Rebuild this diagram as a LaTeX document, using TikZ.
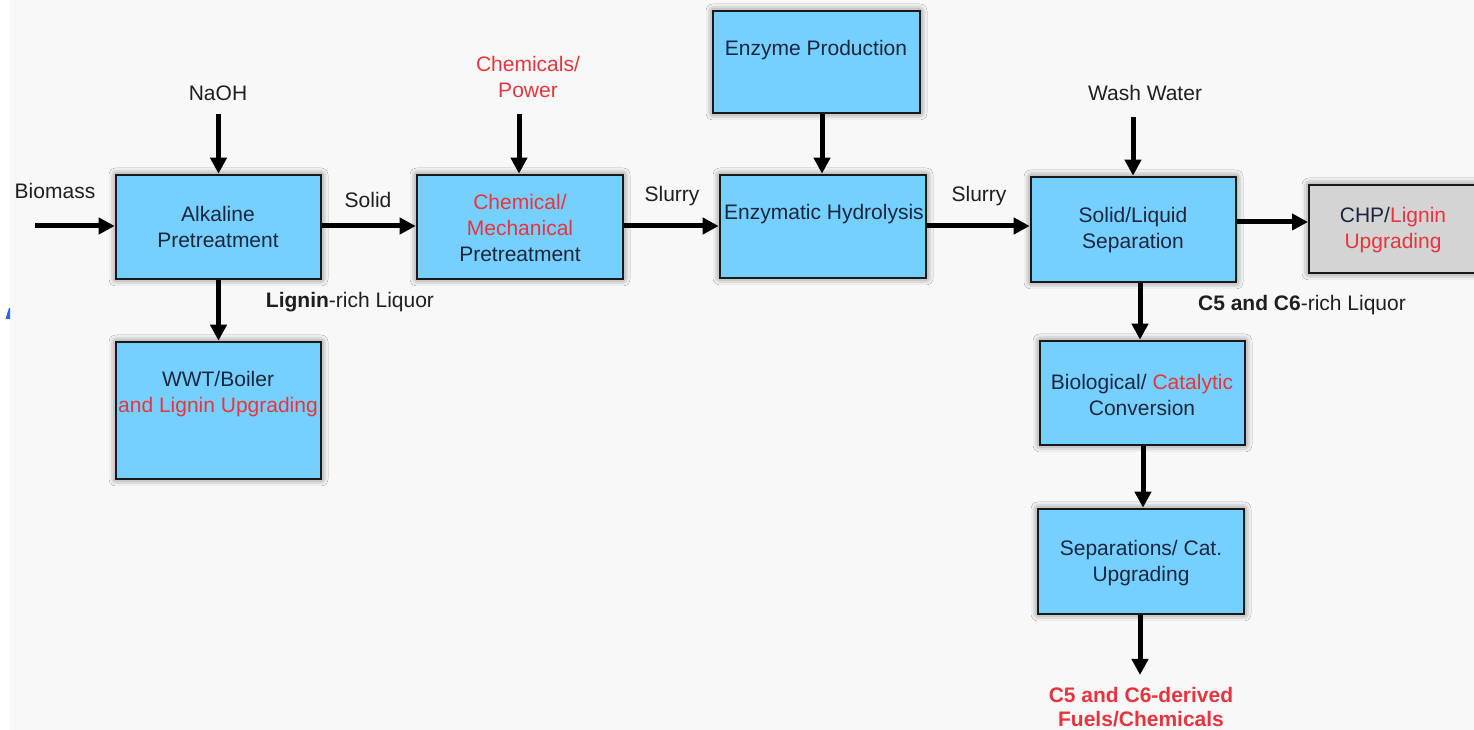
\documentclass[tikz,border=0pt]{standalone}
\usepackage{fontspec}
\setmainfont{Liberation Sans}
\usetikzlibrary{arrows.meta,shadows.blur}
\definecolor{boxblue}{RGB}{118,208,255}
\definecolor{boxgray}{RGB}{212,212,212}
\definecolor{inkred}{RGB}{232,52,62}
\definecolor{ink}{RGB}{26,38,62}
\definecolor{bgcol}{RGB}{248,248,248}
\definecolor{markblue}{RGB}{50,95,255}
\tikzset{
  proc/.style={draw=black!90, line width=2.6pt, fill=boxblue, inner sep=0pt,
    blur shadow={shadow xshift=0pt, shadow yshift=0pt, shadow blur radius=7pt, shadow opacity=60}},
  sidebox/.style={proc, fill=boxgray, line width=2pt},
  flow/.style={line width=5pt, -{Triangle[length=16pt,width=16pt]}},
  boxtext/.style={font=\fontsize{21}{26}\selectfont, text=ink, align=center, inner sep=0pt},
  lbl/.style={font=\fontsize{21}{26}\selectfont, text=black!88, align=center, inner sep=0pt},
  hot/.style={text=inkred},
}
\begin{document}
\begin{tikzpicture}[x=1pt,y=1pt]
  \useasboundingbox (0,0) rectangle (1474,730);
  \fill[bgcol] (0,0) rectangle (1474,730);
  \fill[white] (0,0) rectangle (10,730);
  \fill[markblue] (5.5,411) -- (9,422) -- (10,422) -- (10,411) -- cycle;

  % process boxes
  \node[proc, minimum width=205pt, minimum height=104pt] (alk)  at (218.5,503) {};
  \node[proc, minimum width=206pt, minimum height=104pt] (chem) at (520,503) {};
  \node[proc, minimum width=207pt, minimum height=102pt] (enzp) at (816.5,668) {};
  \node[proc, minimum width=206pt, minimum height=103pt] (enzh) at (823,503.5) {};
  \node[proc, minimum width=205pt, minimum height=105pt] (sl)   at (1133.5,500.5) {};
  \node[sidebox, minimum width=171pt, minimum height=88pt] (chp) at (1394.5,501) {};
  \node[proc, minimum width=205pt, minimum height=137pt] (wwt)  at (218.5,319.5) {};
  \node[proc, minimum width=205pt, minimum height=104pt] (bio)  at (1142.5,337) {};
  \node[proc, minimum width=206pt, minimum height=105pt] (sep)  at (1141,168.5) {};

  % box captions
  \node[boxtext] (t-alk)  at (218,503) {Alkaline\\Pretreatment};
  \node[boxtext] (t-chem) at (520,501.5) {\textcolor{inkred}{Chemical/}\\\textcolor{inkred}{Mechanical}\\Pretreatment};
  \node[boxtext] (t-enzp) at (816,680) {Enzyme Production};
  \node[boxtext] (t-enzh) at (824,516) {Enzymatic Hydrolysis};
  \node[boxtext] (t-sl)   at (1133,500) {Solid/Liquid\\Separation};
  \node[boxtext] (t-chp)  at (1393,499.5) {CHP/\textcolor{inkred}{Lignin}\\\textcolor{inkred}{Upgrading}};
  \node[boxtext] (t-wwt)  at (218,336) {WWT/Boiler\\\textcolor{inkred}{and Lignin Upgrading}};
  \node[boxtext] (t-bio)  at (1142,335.5) {Biological/ \textcolor{inkred}{Catalytic}\\Conversion};
  \node[boxtext] (t-sep)  at (1141,167) {Separations/ Cat.\\Upgrading};

  % stream labels
  \node[lbl] (l-biomass) at (55,539) {Biomass};
  \node[lbl] (l-naoh)    at (218,637) {NaOH};
  \node[lbl] (l-solid)   at (368,530) {Solid};
  \node[lbl, hot] (l-chempow) at (528,653) {Chemicals/\\Power};
  \node[lbl] (l-slurry1) at (672,534) {Slurry};
  \node[lbl] (l-slurry2) at (979,534) {Slurry};
  \node[lbl] (l-wash)    at (1145,637) {Wash Water};
  \node[lbl] (l-lignin)  at (350,428) {\textbf{Lignin}-rich Liquor};
  \node[lbl] (l-c5c6)    at (1302,425) {\textbf{C5 and C6}-rich Liquor};
  \node[lbl, hot, font=\fontsize{21}{24}\selectfont\bfseries] (l-product) at (1141,23) {C5 and C6-derived\\Fuels/Chemicals};

  % free ends of feed and product streams
  \coordinate (bio-in)   at (35,504);
  \coordinate (naoh-in)  at (218.5,616);
  \coordinate (chem-in)  at (519,616);
  \coordinate (wash-in)  at (1133,613);
  \coordinate (prod-out) at (1140,55);

  % connectors
  \draw[flow] (bio-in) -- (bio-in -| alk.west);
  \draw[flow] (naoh-in) -- (naoh-in |- alk.north);
  \draw[flow] (alk.east |- bio-in) -- (bio-in -| chem.west);
  \draw[flow] (chem-in) -- (chem-in |- chem.north);
  \draw[flow] (chem.east |- bio-in) -- (bio-in -| enzh.west);
  \draw[flow] (822,0 |- enzp.south) -- (822,0 |- enzh.north);
  \draw[flow] (enzh.east |- bio-in) -- (bio-in -| sl.west);
  \draw[flow] (wash-in) -- (wash-in |- sl.north);
  \draw[flow] (sl.east |- 0,508) -- (chp.west |- 0,508);
  \draw[flow] (alk.south) -- (wwt.north);
  \draw[flow] (1140,0 |- sl.south) -- (1140,0 |- bio.north);
  \draw[flow] (1143,0 |- bio.south) -- (1143,0 |- sep.north);
  \draw[flow] (prod-out |- sep.south) -- (prod-out);
\end{tikzpicture}
\end{document}
